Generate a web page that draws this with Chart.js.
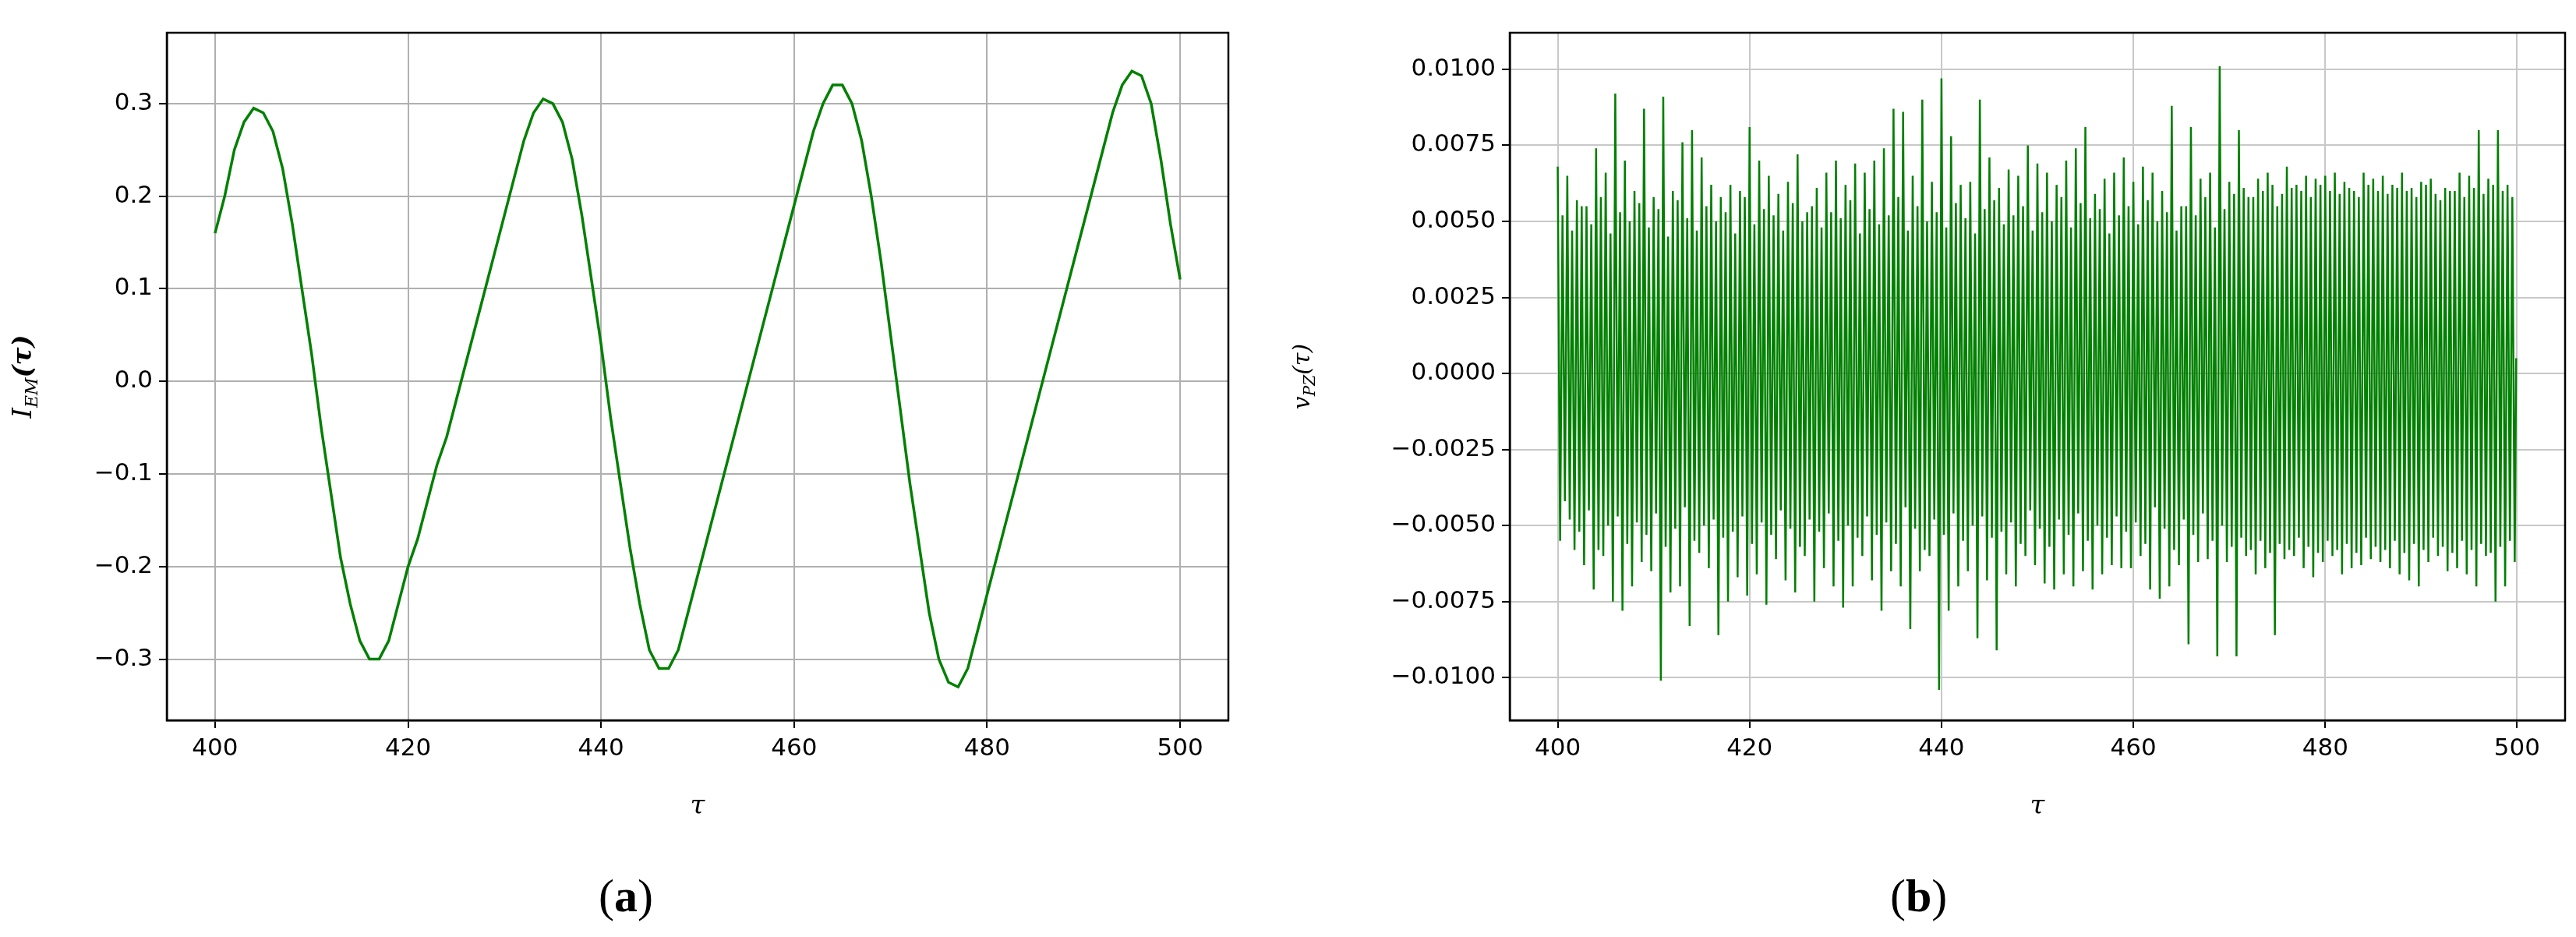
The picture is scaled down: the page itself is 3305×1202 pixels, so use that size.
<!DOCTYPE html>
<html><head><meta charset="utf-8">
<script src="https://cdn.jsdelivr.net/npm/chart.js@4"></script>
<style>
body{margin:0;background:#fff;width:3305px;height:1202px;position:relative;overflow:hidden}
canvas{position:absolute;top:0}
.cap{position:absolute;top:1115px;font-family:"Liberation Serif",serif;font-size:60px;color:#000}
</style></head><body>
<div style="position:absolute;left:0;top:0;width:1650px;height:1060px"><canvas id="c1"></canvas></div>
<div style="position:absolute;left:1650px;top:0;width:1655px;height:1060px"><canvas id="c2"></canvas></div>
<div class="cap" style="left:768px">(<b>a</b>)</div>
<div class="cap" style="left:2425px">(<b>b</b>)</div>
<script>
const tauA = [];
for (let t = 400; t <= 500; t++) tauA.push(t);
const iEM = [0.16,0.20,0.25,0.28,0.295,0.29,0.27,0.23,0.17,0.10,0.03,-0.05,-0.12,-0.19,-0.24,-0.28,-0.30,-0.30,-0.28,-0.24,
-0.20,-0.17,-0.13,-0.09,-0.06,-0.02,0.02,0.06,0.10,0.14,0.18,0.22,0.26,0.29,0.305,0.30,0.28,0.24,0.18,0.11,
0.04,-0.04,-0.11,-0.18,-0.24,-0.29,-0.31,-0.31,-0.29,-0.25,-0.21,-0.17,-0.13,-0.09,-0.05,-0.01,0.03,0.07,0.11,0.15,
0.19,0.23,0.27,0.30,0.32,0.32,0.30,0.26,0.20,0.13,0.05,-0.03,-0.11,-0.18,-0.25,-0.30,-0.325,-0.33,-0.31,-0.27,
-0.23,-0.19,-0.15,-0.11,-0.07,-0.03,0.01,0.05,0.09,0.13,0.17,0.21,0.25,0.29,0.32,0.335,0.33,0.30,0.24,0.17,0.11];
// right panel, one entry per unit of tau (main high, low, and in-between swings)
const vpzHigh = [0.0068,0.0065,0.0057,0.0055,0.0074,0.0066,0.0092,0.0070,0.0060,0.0087,
0.0058,0.0091,0.0060,0.0076,0.0080,0.0071,0.0062,0.0058,0.0062,0.0060,
0.0081,0.0070,0.0065,0.0059,0.0063,0.0072,0.0053,0.0061,0.0066,0.0070,
0.0062,0.0069,0.0066,0.0070,0.0074,0.0087,0.0086,0.0065,0.0090,0.0063,
0.0097,0.0078,0.0062,0.0063,0.0090,0.0071,0.0061,0.0067,0.0065,0.0075,
0.0069,0.0066,0.0062,0.0070,0.0074,0.0081,0.0059,0.0064,0.0066,0.0071,
0.0063,0.0068,0.0066,0.0060,0.0088,0.0055,0.0081,0.0064,0.0066,0.0101,
0.0063,0.0080,0.0058,0.0064,0.0066,0.0055,0.0068,0.0062,0.0065,0.0064,
0.0065,0.0066,0.0063,0.0060,0.0066,0.0064,0.0065,0.0062,0.0066,0.0061,
0.0063,0.0064,0.0057,0.0060,0.0066,0.0065,0.0080,0.0064,0.0080,0.0062];
const vpzLow = [-0.0042,-0.0058,-0.0063,-0.0071,-0.0060,-0.0075,-0.0078,-0.0070,-0.0062,-0.0065,
-0.0101,-0.0072,-0.0070,-0.0083,-0.0059,-0.0064,-0.0086,-0.0075,-0.0067,-0.0073,
-0.0066,-0.0076,-0.0061,-0.0068,-0.0072,-0.0060,-0.0075,-0.0064,-0.0070,-0.0077,
-0.0070,-0.0060,-0.0068,-0.0078,-0.0065,-0.0070,-0.0084,-0.0065,-0.0060,-0.0104,
-0.0078,-0.0070,-0.0065,-0.0087,-0.0068,-0.0091,-0.0066,-0.0070,-0.0060,-0.0063,
-0.0069,-0.0071,-0.0066,-0.0070,-0.0065,-0.0071,-0.0066,-0.0063,-0.0064,-0.0064,
-0.0060,-0.0071,-0.0074,-0.0070,-0.0063,-0.0089,-0.0062,-0.0061,-0.0093,-0.0062,
-0.0093,-0.0060,-0.0066,-0.0064,-0.0086,-0.0061,-0.0060,-0.0064,-0.0067,-0.0062,
-0.0060,-0.0066,-0.0064,-0.0063,-0.0061,-0.0062,-0.0064,-0.0066,-0.0068,-0.0070,
-0.0062,-0.0060,-0.0065,-0.0064,-0.0066,-0.0070,-0.0060,-0.0075,-0.0070,-0.0062];
const vpzMidLow = [-0.0055,-0.0048,-0.0052,-0.0045,-0.0058,-0.0050,-0.0047,-0.0056,-0.0049,-0.0053,
-0.0046,-0.0057,-0.0051,-0.0044,-0.0055,-0.0050,-0.0048,-0.0054,-0.0052,-0.0047,
-0.0056,-0.0049,-0.0053,-0.0045,-0.0051,-0.0057,-0.0048,-0.0052,-0.0046,-0.0055,
-0.0050,-0.0054,-0.0047,-0.0053,-0.0049,-0.0056,-0.0044,-0.0051,-0.0058,-0.0048,
-0.0053,-0.0046,-0.0055,-0.0050,-0.0047,-0.0054,-0.0052,-0.0049,-0.0056,-0.0045,
-0.0051,-0.0057,-0.0048,-0.0053,-0.0046,-0.0055,-0.0050,-0.0054,-0.0047,-0.0052,
-0.0049,-0.0056,-0.0044,-0.0051,-0.0058,-0.0048,-0.0053,-0.0046,-0.0055,-0.0050,
-0.0057,-0.0054,-0.0058,-0.0055,-0.0059,-0.0056,-0.0058,-0.0054,-0.0057,-0.0059,
-0.0055,-0.0058,-0.0056,-0.0059,-0.0054,-0.0057,-0.0058,-0.0055,-0.0059,-0.0056,
-0.0058,-0.0054,-0.0057,-0.0059,-0.0055,-0.0058,-0.0056,-0.0059,-0.0057,-0.0055];
const vpzMidHigh = [0.0052,0.0047,0.0055,0.0049,0.0058,0.0046,0.0053,0.0050,0.0056,0.0048,
0.0054,0.0045,0.0057,0.0051,0.0047,0.0055,0.0050,0.0053,0.0046,0.0058,
0.0049,0.0054,0.0052,0.0047,0.0056,0.0050,0.0055,0.0048,0.0053,0.0051,
0.0057,0.0046,0.0054,0.0049,0.0052,0.0058,0.0047,0.0055,0.0050,0.0053,
0.0048,0.0056,0.0051,0.0046,0.0054,0.0057,0.0049,0.0052,0.0055,0.0047,
0.0053,0.0050,0.0058,0.0048,0.0056,0.0051,0.0054,0.0046,0.0052,0.0055,
0.0049,0.0057,0.0050,0.0053,0.0047,0.0055,0.0052,0.0058,0.0048,0.0054,
0.0059,0.0061,0.0058,0.0060,0.0062,0.0059,0.0061,0.0060,0.0058,0.0062,
0.0060,0.0059,0.0061,0.0058,0.0062,0.0060,0.0059,0.0061,0.0060,0.0058,
0.0062,0.0059,0.0061,0.0060,0.0058,0.0061,0.0059,0.0062,0.0060,0.0058];
const vpzEnd = 0.0005;
const xTicks = [400,420,440,460,480,500];
const yTicksA = [-0.3,-0.2,-0.1,0,0.1,0.2,0.3];
const yTicksB = [-0.01,-0.0075,-0.005,-0.0025,0,0.0025,0.005,0.0075,0.01];

const ptsA = tauA.map((t,i)=>({x:t,y:iEM[i]}));
const ptsB = [];
for (let i=0;i<vpzHigh.length;i++){
  ptsB.push({x:400+i, y:vpzHigh[i]});
  ptsB.push({x:400+i+0.25, y:vpzMidLow[i]});
  ptsB.push({x:400+i+0.5, y:vpzMidHigh[i]});
  ptsB.push({x:400+i+0.75, y:vpzLow[i]});
}
ptsB.push({x:499.9,y:vpzEnd});

const minus = s => s.replace('-', '\u2212');
function ylab(parts, x){
  return {id:'ylab', afterDraw(chart){
    const ctx=chart.ctx, ca=chart.chartArea, y=(ca.top+ca.bottom)/2;
    ctx.save(); ctx.translate(x,y); ctx.rotate(-Math.PI/2);
    let w=0; parts.forEach(p=>{ctx.font=p.f; w+=ctx.measureText(p.t).width;});
    let cx=-w/2; ctx.fillStyle='#000'; ctx.textBaseline='alphabetic';
    parts.forEach(p=>{ctx.font=p.f; ctx.fillText(p.t,cx,p.dy||0); cx+=ctx.measureText(p.t).width;});
    ctx.restore();
  }};
}
function makeChart(id, pts, yMin, yMax, yTicks, fmt, yWidth, padRight, lw, gridC, plugin){
  return new Chart(document.getElementById(id), {
    type:'line',
    data:{datasets:[{data:pts, borderColor:'#008000', borderWidth:lw, pointRadius:0, tension:0, fill:false}]},
    options:{responsive:true, maintainAspectRatio:false, animation:false,
      layout:{padding:{left:0,top:42,right:padRight,bottom:0}},
      plugins:{legend:{display:false}, tooltip:{enabled:false}},
      scales:{
        x:{type:'linear', min:395, max:505,
          afterBuildTicks:s=>{s.ticks=xTicks.map(v=>({value:v}));},
          afterFit:s=>{s.height=136;},
          grid:{color:gridC, lineWidth:2, tickLength:10, tickColor:'#000'},
          border:{color:'#000', width:2.5},
          ticks:{color:'#000', font:{family:'DejaVu Sans', size:31}, padding:8, maxRotation:0},
          title:{display:true, text:'τ', color:'#000', font:{family:'DejaVu Serif', size:34, style:'italic'}, padding:{top:8}}
        },
        y:{type:'linear', min:yMin, max:yMax,
          afterBuildTicks:s=>{s.ticks=yTicks.map(v=>({value:v}));},
          afterFit:s=>{s.width=yWidth;},
          grid:{color:gridC, lineWidth:2, tickLength:10, tickColor:'#000'},
          border:{color:'#000', width:2.5},
          ticks:{color:'#000', font:{family:'DejaVu Sans', size:31}, padding:8, callback:v=>minus(fmt(v))}
        }
      }
    },
    plugins:[plugin, {id:'frame', afterDraw(c){const ctx=c.ctx,a=c.chartArea;ctx.save();ctx.strokeStyle='#000';ctx.lineWidth=2.5;ctx.strokeRect(a.left,a.top,a.right-a.left,a.bottom-a.top);ctx.restore();}}]
  });
}
makeChart('c1', ptsA, -0.366, 0.3765, yTicksA, v=>v.toFixed(1), 214, 74, 3.5, '#b0b0b0',
  ylab([{t:'I',f:'italic 34px "DejaVu Serif"'},{t:'EM',f:'italic 22px "DejaVu Serif"',dy:8},{t:'(τ)',f:'italic bold 34px "DejaVu Serif"'}], 40));
makeChart('c2', ptsB, -0.0114, 0.0112, yTicksB, v=>v.toFixed(4), 287, 14, 2.5, '#c8c8c8',
  ylab([{t:'v',f:'italic 30px "DejaVu Serif"'},{t:'PZ',f:'italic 20px "DejaVu Serif"',dy:7},{t:'(τ)',f:'italic 30px "DejaVu Serif"'}], 30));
</script></body></html>
